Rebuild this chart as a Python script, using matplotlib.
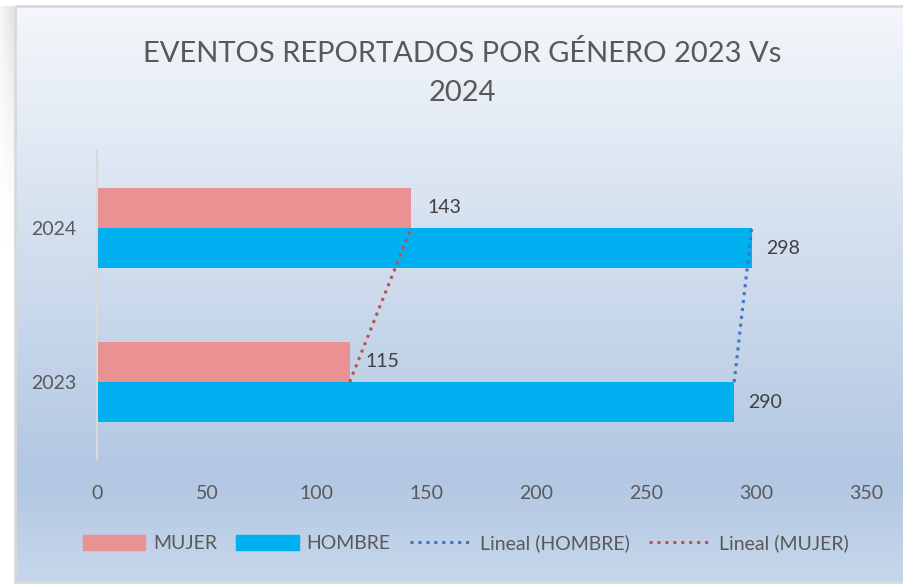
import numpy as np
import matplotlib
matplotlib.use("Agg")
import matplotlib.pyplot as plt
from matplotlib.patches import Patch, Rectangle
from matplotlib.lines import Line2D
from matplotlib.colors import LinearSegmentedColormap

years = ['2023', '2024']
mujer = [115, 143]
hombre = [290, 298]
xticks = [0, 50, 100, 150, 200, 250, 300, 350]

plt.rcParams['font.family'] = ['Lato', 'DejaVu Sans']

W, H = 904, 584
fig = plt.figure(figsize=(W / 100, H / 100), dpi=100)
fig.patch.set_facecolor('white')

# background gradient of the chart area
bg = fig.add_axes([0, 0, 1, 1])
bg.set_xlim(0, W)
bg.set_ylim(H, 0)
bg.axis('off')
cmap = LinearSegmentedColormap.from_list('bg', [(0, '#f4f7fb'), (0.82, '#b2c7e2'), (1, '#c7d7eb')])
grad = np.linspace(0, 1, 256).reshape(-1, 1)
bg.imshow(grad, cmap=cmap, aspect='auto', extent=(16, W, 582, 6), zorder=0)
bg.add_patch(Rectangle((15, 6), W - 14, 576, fill=False, ec='#d9d9d9', lw=2, zorder=1))
# soft grey shadow at the left top, fading downwards
sh = np.zeros((100, 20, 4))
sh[..., :3] = 0.86
ax_x = np.linspace(0.3, 1, 20)[None, :]
ax_y = np.clip(1 - np.linspace(0, 1, 100)[:, None], 0, 1) ** 1.5
sh[..., 3] = ax_x * ax_y * 0.8
bg.imshow(sh, aspect='auto', extent=(0, 14, 260, 6), zorder=0)

ax = fig.add_axes([97 / W, 1 - 459 / H, (866 - 97) / W, (459 - 151) / H])
ax.set_facecolor('none')

y = np.arange(len(years))
h = 0.26
ax.barh(y + h / 2, mujer, height=h, color='#ea9193', zorder=2)
ax.barh(y - h / 2, hombre, height=h, color='#00b0f0', zorder=2)

for yi, v in zip(y + h / 2, mujer):
    ax.annotate(str(v), (v, yi), xytext=(16, 0), textcoords='offset pixels',
                va='center', ha='left', fontsize=14, color='#404040')
for yi, v in zip(y - h / 2, hombre):
    ax.annotate(str(v), (v, yi), xytext=(14, 0), textcoords='offset pixels',
                va='center', ha='left', fontsize=14, color='#404040')

# linear trend lines
for vals, col in [(hombre, '#4472c4'), (mujer, '#c0504d')]:
    k, b = np.polyfit(y, vals, 1)
    ax.plot(k * y + b, y, ls=(0, (1, 1.6)), color=col, lw=2.2, zorder=3)

ax.set_xlim(0, 350)
ax.set_ylim(-0.5, 1.5)
ax.set_xticks(xticks)
ax.set_yticks(y)
ax.set_yticklabels(years)
ax.tick_params(length=0, labelsize=14, labelcolor='#595959')
ax.tick_params(axis='x', pad=19)
ax.tick_params(axis='y', pad=15)
for s in ['top', 'right', 'bottom']:
    ax.spines[s].set_visible(False)
ax.spines['left'].set_color('#d9d9d9')
ax.spines['left'].set_linewidth(1.5)

fig.text(462 / W, 1 - 73 / H, 'EVENTOS REPORTADOS POR GÉNERO 2023 Vs\n2024',
         ha='center', va='center', fontsize=21, color='#595959', linespacing=1.62)

handles = [Patch(color='#ea9193'), Patch(color='#00b0f0'),
           Line2D([], [], ls=(0, (1, 1.6)), color='#4472c4', lw=2.2),
           Line2D([], [], ls=(0, (1, 1.6)), color='#c0504d', lw=2.2)]
labels = ['MUJER', 'HOMBRE', 'Lineal (HOMBRE)', 'Lineal (MUJER)']
fig.legend(handles, labels, loc='center', bbox_to_anchor=(466 / W, 1 - 543 / H), ncol=4,
           frameon=False, fontsize=14, handlelength=3.2, handleheight=0.8,
           handletextpad=0.4, columnspacing=1.0, labelcolor='#595959')

fig.savefig('out.png', dpi=100)
